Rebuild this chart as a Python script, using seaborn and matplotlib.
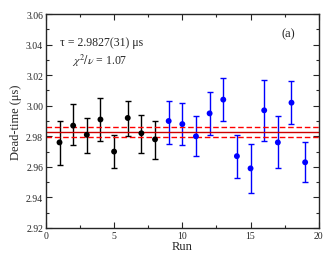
import matplotlib
matplotlib.use("Agg")
import matplotlib.pyplot as plt
from matplotlib.ticker import MultipleLocator
import seaborn as sns
import pandas as pd

# Dead-time per run (two data sets)
runs = list(range(1, 20))
dead_time = [2.976, 2.987, 2.981, 2.991, 2.970, 2.992, 2.982, 2.978,
             2.990, 2.988, 2.980, 2.995, 3.004, 2.967, 2.959, 2.997,
             2.976, 3.002, 2.963]
err_low = [2.961, 2.974, 2.969, 2.977, 2.959, 2.980, 2.969, 2.965,
           2.975, 2.974, 2.967, 2.981, 2.990, 2.953, 2.943, 2.977,
           2.959, 2.988, 2.950]
err_high = [2.990, 3.001, 2.992, 3.005, 2.981, 3.003, 2.994, 2.990,
            3.003, 3.002, 2.993, 3.009, 3.018, 2.981, 2.975, 3.017,
            2.993, 3.016, 2.976]
group = ["A"] * 8 + ["B"] * 11

tau = 2.9827
tau_err = 0.0031

df = pd.DataFrame({"run": runs, "dt": dead_time, "lo": err_low, "hi": err_high, "grp": group})
colors = {"A": "black", "B": "blue"}

sns.set_style("ticks")
plt.rcParams["font.family"] = ["Liberation Serif", "DejaVu Serif"]
plt.rcParams["mathtext.fontset"] = "stix"

fig = plt.figure(figsize=(3.3, 2.55), dpi=100)
ax = fig.add_axes([0.139, 0.102, 0.827, 0.839])

for g, sub in df.groupby("grp"):
    ax.errorbar(sub["run"], sub["dt"],
                yerr=[sub["dt"] - sub["lo"], sub["hi"] - sub["dt"]],
                fmt="none", ecolor=colors[g], elinewidth=1, capsize=2.5, capthick=1)
sns.scatterplot(data=df, x="run", y="dt", hue="grp", palette=colors,
                s=18, edgecolor="none", legend=False, ax=ax, zorder=3)

ax.axhline(tau, color="#cc0000", lw=1)
ax.axhline(tau + tau_err, color="red", lw=1, ls=(0, (4, 2)))
ax.axhline(tau - tau_err, color="red", lw=1, ls=(0, (4, 2)))

ax.set_xlim(0, 20)
ax.set_ylim(2.92, 3.06)
ax.xaxis.set_major_locator(MultipleLocator(5))
ax.xaxis.set_minor_locator(MultipleLocator(2.5))
ax.yaxis.set_major_locator(MultipleLocator(0.02))
ax.yaxis.set_minor_locator(MultipleLocator(0.01))
ax.yaxis.set_major_formatter(matplotlib.ticker.FormatStrFormatter("%.2f"))
ax.tick_params(which="both", direction="in", top=True, right=True, labelsize=7, pad=2)
ax.tick_params(which="major", length=4, width=0.8)
ax.tick_params(which="minor", length=2, width=0.8)
for sp in ax.spines.values():
    sp.set_linewidth(1)

ax.set_xlabel("Run", fontsize=9, labelpad=0)
ax.set_ylabel("Dead-time (μs)", fontsize=9, labelpad=3)

ax.text(4.07, 3.0417, "τ = 2.9827(31) μs", fontsize=8.5, ha="center", va="center")
ax.text(3.96, 3.0299, r"$\chi^2/\nu$ = 1.07", fontsize=8.5, ha="center", va="center")
ax.text(17.75, 3.0476, "(a)", fontsize=9, ha="center", va="center")

fig.savefig("out.png", dpi=100)
